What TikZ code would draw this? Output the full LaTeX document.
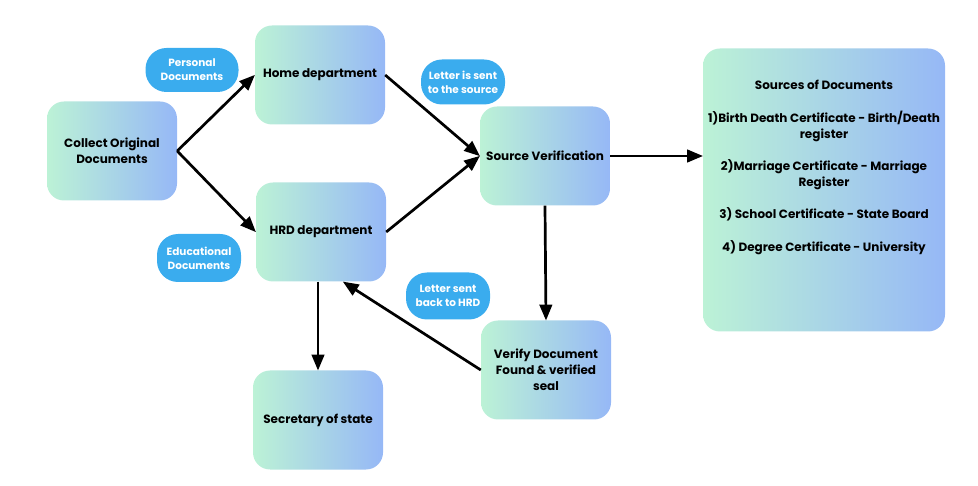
\documentclass[tikz,border=0pt]{standalone}
\usepackage{fontspec}
\setmainfont{Poppins}
\usetikzlibrary{arrows,positioning,shapes}
\definecolor{mint}{RGB}{188,242,214}
\definecolor{sky}{RGB}{150,184,246}
\definecolor{pill}{RGB}{58,172,238}

\begin{document}
\begin{tikzpicture}[x=1pt,y=-1pt,
  box/.style={rounded corners=17pt,left color=mint,right color=sky,minimum width=130pt,minimum height=99pt,
    align=center,font=\bfseries\fontsize{12}{16}\selectfont},
  tag/.style={rounded corners=21pt,fill=pill,text=white,align=center,inner sep=4pt,
    font=\bfseries\fontsize{10.5}{14}\selectfont},
  link/.style={->,>=triangle 45,line width=2.7pt}]

\useasboundingbox (0,0) rectangle (978,486);

\node[box] (collect) at (112,151) {Collect Original\\Documents};
\node[box] (home) at (320,75) {Home department};
\node[box] (hrd) at (321,232) {HRD department};
\node[box] (source) at (545,156) {Source Verification};
\node[box] (verify) at (546,370) {Verify Document\\Found \& verified\\seal};
\node[box] (secretary) at (318,420) {Secretary of state};
\node[box,minimum width=242pt,minimum height=283pt] (sources) at (824,190) {};
\node[below=28pt of sources.north,align=center,font=\bfseries\fontsize{12}{15.5}\selectfont] (list)
  {Sources of Documents\\[18pt]
   1)Birth Death Certificate - Birth/Death\\register\\[17pt]
   2)Marriage Certificate - Marriage\\Register\\[17pt]
   3) School Certificate - State Board\\[17pt]
   4) Degree Certificate - University};

\node[tag,minimum width=93pt,minimum height=44pt] (personal) at (192,70) {Personal\\Documents};
\node[tag,minimum width=84pt,minimum height=45pt] (sent) at (463,82) {Letter is sent\\to the source};
\node[tag,minimum width=84pt,minimum height=48pt] (educational) at (199,258) {Educational\\Documents};
\node[tag,minimum width=84pt,minimum height=47pt] (back) at (448,296) {Letter sent\\back to HRD};

% arrows
\draw[link] (collect.east) -- (home.west);
\draw[link] (collect.east) -- (hrd.west);
\draw[link] (home.east) -- (source.west);
\draw[link] (hrd.east) -- (source.west);
\draw[link] (source.east) -- (sources.west |- source.east);
\draw[link] (source.south) -- (verify.north);
\draw[link] (hrd.south -| secretary.north) -- (secretary.north);
\draw[link] (verify.west) -- ([xshift=22pt]hrd.south);

\end{tikzpicture}
\end{document}
